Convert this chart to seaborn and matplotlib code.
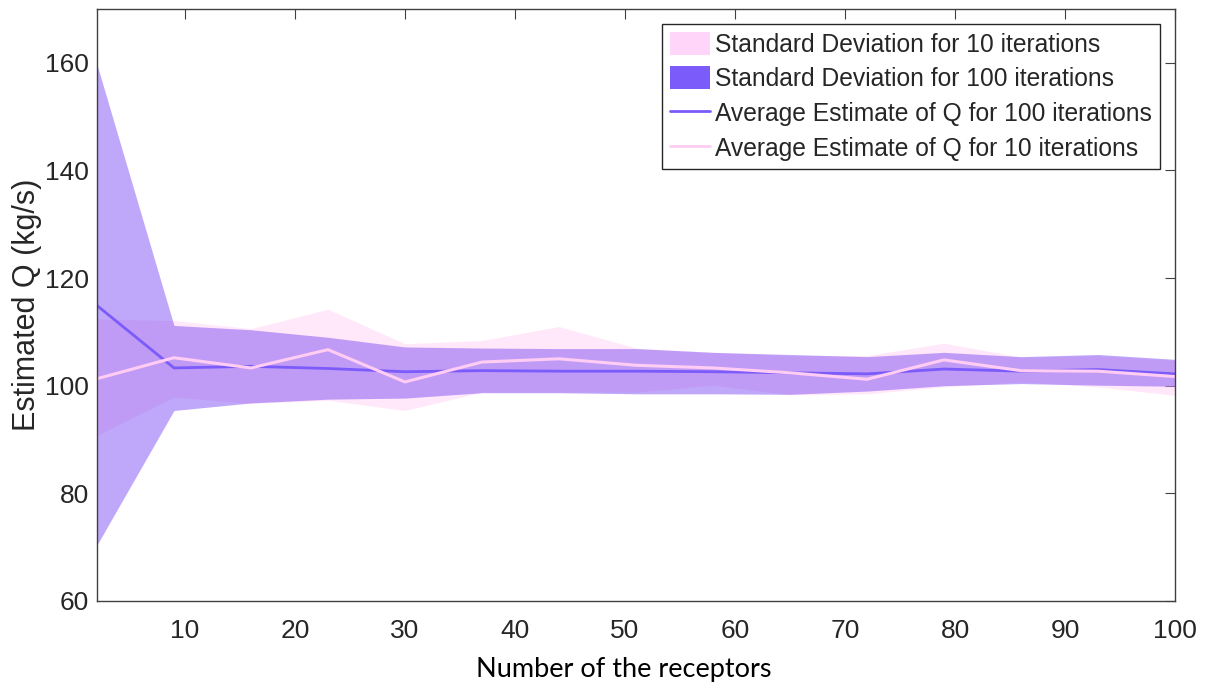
import numpy as np
import pandas as pd
import seaborn as sns
import matplotlib.pyplot as plt
from matplotlib.patches import Patch
from matplotlib.lines import Line2D

# Number of receptors
receptors = [2, 9, 16, 23, 30, 37, 44, 51, 58, 65, 72, 79, 86, 93, 100]

# 100 iterations: mean and band edges
mean_100 = [114.9, 103.3, 103.6, 103.2, 102.6, 102.8, 102.7, 102.7, 102.6, 102.4, 102.2, 103.1, 102.7, 103.0, 102.2]
upper_100 = [159.7, 111.2, 110.4, 109.0, 107.2, 107.0, 106.9, 106.9, 106.2, 105.8, 105.4, 106.2, 105.4, 105.8, 104.9]
lower_100 = [70.4, 95.4, 96.8, 97.5, 97.7, 98.7, 98.7, 98.5, 98.5, 98.4, 99.0, 100.0, 100.4, 100.1, 99.9]

# 10 iterations: mean and band edges
mean_10 = [101.3, 105.2, 103.3, 106.7, 100.7, 104.4, 105.0, 103.8, 103.3, 102.4, 101.2, 104.8, 102.8, 102.7, 101.7]
upper_10 = [112.4, 112.1, 110.6, 114.2, 107.8, 108.4, 111.0, 107.0, 106.2, 105.6, 105.6, 107.9, 105.3, 105.6, 104.7]
lower_10 = [90.8, 97.9, 96.7, 97.3, 95.4, 98.8, 98.8, 98.8, 100.1, 98.3, 98.5, 99.8, 100.7, 99.8, 98.2]

df = pd.DataFrame({
    "receptors": receptors,
    "mean_100": mean_100,
    "mean_10": mean_10,
})

purple = "#7B5BFA"
purple_band = "#8050F5"
pink = "#FFCCF3"

sns.set_theme(style="white")
plt.rcParams["font.family"] = ["Liberation Sans", "DejaVu Sans"]

fig = plt.figure(figsize=(12.09, 6.88), dpi=100)
ax = fig.add_axes([0.0802, 0.1265, 0.8917, 0.8604])

# Bands
ax.fill_between(receptors, lower_10, upper_10, color=pink, alpha=0.45, linewidth=0)
ax.fill_between(receptors, lower_100, upper_100, color=purple_band, alpha=0.5, linewidth=0)

# Mean lines
sns.lineplot(data=df, x="receptors", y="mean_100", ax=ax, color=purple, linewidth=2.0)
sns.lineplot(data=df, x="receptors", y="mean_10", ax=ax, color=pink, linewidth=2.2)

ax.set_xlim(2, 100)
ax.set_ylim(60, 170)
ax.set_xticks(range(10, 101, 10))
ax.set_yticks(range(60, 161, 20))

for side in ["top", "right", "left", "bottom"]:
    ax.spines[side].set_visible(True)
    ax.spines[side].set_color("#404040")
    ax.spines[side].set_linewidth(1.0)

ax.tick_params(axis="both", direction="in", length=7.5, width=0.8, color="#404040",
               labelsize=19, labelcolor="#262626", top=True, right=True)
ax.tick_params(axis="x", pad=13)
ax.tick_params(axis="y", pad=6)

ax.set_ylabel("Estimated Q (kg/s)", fontsize=22, color="#262626", labelpad=2)
ax.set_xlabel("Number of the receptors", fontsize=19.5, family=["Lato", "DejaVu Sans"],
              color="black")
ax.xaxis.set_label_coords(0.489, -0.095)

handles = [
    Patch(facecolor="#FFD6FA", edgecolor="none", label="Standard Deviation for 10 iterations"),
    Patch(facecolor=purple, edgecolor="none", label="Standard Deviation for 100 iterations"),
    Line2D([0], [0], color=purple, linewidth=2, label="Average Estimate of Q for 100 iterations"),
    Line2D([0], [0], color=pink, linewidth=2, label="Average Estimate of Q for 10 iterations"),
]
leg = ax.legend(handles=handles, loc="upper right", fontsize=17.7, frameon=True,
                fancybox=False, edgecolor="#262626", framealpha=1,
                handlelength=1.63, handleheight=1.05, handletextpad=0.2,
                labelspacing=0.4, borderpad=0.33, borderaxespad=0.6)
leg.get_frame().set_linewidth(1.0)

fig.savefig("out.png", dpi=100)
